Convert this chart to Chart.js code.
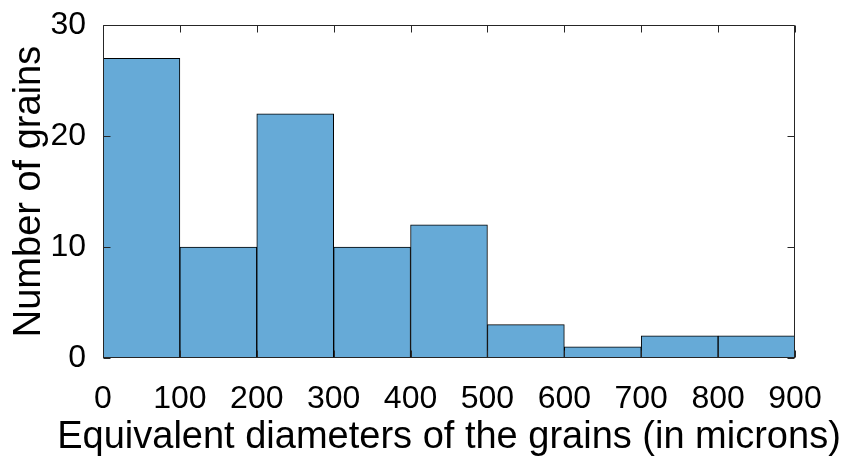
<!DOCTYPE html>
<html>
<head>
<meta charset="utf-8">
<title>Grain size histogram</title>
<script src="https://cdn.jsdelivr.net/npm/chart.js@4.4.1/dist/chart.umd.min.js"></script>
<style>
  html, body { margin: 0; padding: 0; background: #fff; }
  canvas { display: block; }
</style>
</head>
<body>
<canvas id="grainChart" width="853" height="457"></canvas>
<script>
// Histogram data (bin edges in microns, counts per bin)
const binEdges = [0, 100, 200, 300, 400, 500, 600, 700, 800, 900];
const grainCounts = [27, 10, 22, 10, 12, 3, 1, 2, 2];
const yTickValues = [0, 10, 20, 30];

const xTitle = 'Equivalent diameters of the grains (in microns)';
const yTitle = 'Number of grains';

const FONT = "'Liberation Sans', Arial, Helvetica, sans-serif";
const AXIS_COLOR = '#262626';

// bar centres, built from the edges
const barPoints = grainCounts.map((count, i) => ({
  x: (binEdges[i] + binEdges[i + 1]) / 2,
  y: count
}));

// MATLAB-style box with inward tick marks, drawn on top of the bars
const boxTicks = {
  id: 'boxTicks',
  afterDatasetsDraw(chart) {
    const { ctx, chartArea, scales } = chart;
    const len = 7;
    const left = Math.round(chartArea.left) + 0.5;
    const right = Math.round(chartArea.right) - 0.5;
    const top = Math.round(chartArea.top) + 0.5;
    const bottom = Math.round(chartArea.bottom) - 0.5;
    ctx.save();
    ctx.strokeStyle = AXIS_COLOR;
    ctx.lineWidth = 1;
    ctx.beginPath();
    ctx.rect(left, top, right - left, bottom - top);
    binEdges.forEach(v => {
      const px = Math.round(scales.x.getPixelForValue(v)) + 0.5;
      ctx.moveTo(px, bottom);
      ctx.lineTo(px, bottom - len);
      ctx.moveTo(px, top);
      ctx.lineTo(px, top + len);
    });
    yTickValues.forEach(v => {
      const py = Math.round(scales.y.getPixelForValue(v)) + 0.5;
      ctx.moveTo(left, py);
      ctx.lineTo(left + len, py);
      ctx.moveTo(right, py);
      ctx.lineTo(right - len, py);
    });
    ctx.stroke();

    // x label: the axis title would be squeezed to the plot width, so draw it here
    ctx.fillStyle = '#000';
    ctx.font = '38px ' + FONT;
    ctx.textAlign = 'center';
    ctx.textBaseline = 'alphabetic';
    ctx.fillText(xTitle, (chartArea.left + chartArea.right) / 2, 448);
    ctx.restore();
  }
};

new Chart(document.getElementById('grainChart'), {
  type: 'bar',
  data: {
    datasets: [{
      label: 'grains',
      data: barPoints,
      backgroundColor: 'rgb(102, 170, 215)',
      borderColor: '#000',
      borderWidth: 1,
      borderSkipped: false,
      barPercentage: 1,
      categoryPercentage: 1
    }]
  },
  options: {
    responsive: false,
    devicePixelRatio: 1,
    animation: false,
    layout: { padding: 0 },
    plugins: {
      legend: { display: false },
      tooltip: { enabled: false }
    },
    scales: {
      x: {
        type: 'linear',
        position: 'bottom',
        min: 0,
        max: 900,
        offset: false,
        grid: { display: false },
        border: { display: false },
        ticks: {
          stepSize: 100,
          color: '#000',
          padding: 17,
          maxRotation: 0,
          font: { family: FONT, size: 32, lineHeight: 1 }
        },
        afterFit(scale) { scale.height = 99; }
      },
      y: {
        type: 'linear',
        position: 'left',
        min: 0,
        max: 30,
        grid: { display: false },
        border: { display: false },
        ticks: {
          stepSize: 10,
          color: '#000',
          padding: 9,
          font: { family: FONT, size: 32, lineHeight: 1 }
        },
        title: {
          display: true,
          text: yTitle,
          color: '#000',
          padding: { top: 11, bottom: 0 },
          font: { family: FONT, size: 38, lineHeight: 1 }
        },
        afterFit(scale) { scale.width = 103; }
      },
      xTop: {
        type: 'linear',
        position: 'top',
        min: 0,
        max: 900,
        grid: { display: false },
        border: { display: false },
        ticks: { display: false },
        afterFit(scale) { scale.height = 21; }
      },
      yRight: {
        type: 'linear',
        position: 'right',
        min: 0,
        max: 30,
        grid: { display: false },
        border: { display: false },
        ticks: { display: false },
        afterFit(scale) { scale.width = 58; }
      }
    }
  },
  plugins: [boxTicks]
});
</script>
</body>
</html>
